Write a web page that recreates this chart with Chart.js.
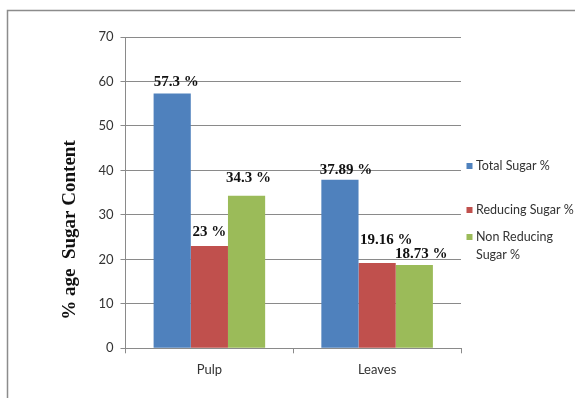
<!DOCTYPE html>
<html>
<head>
<meta charset="utf-8">
<script src="https://cdn.jsdelivr.net/npm/chart.js@4/dist/chart.umd.min.js"></script>
<style>
  html, body { margin: 0; padding: 0; background: #fff; }
  #wrap { width: 575px; height: 398px; position: relative; }
</style>
</head>
<body>
<div id="wrap"><canvas id="c" width="575" height="398"></canvas></div>
<script>
// Sugar content by plant part
const categories = ['Pulp', 'Leaves'];
const totalSugar = [57.3, 37.89];
const reducingSugar = [23, 19.16];
const nonReducingSugar = [34.3, 18.73];
const seriesNames = ['Total Sugar %', 'Reducing Sugar %', 'Non Reducing Sugar %'];
const yTicks = [0, 10, 20, 30, 40, 50, 60, 70];

// Per-label nudges (px) for the value labels: [series][category] -> [dx, dy above bar top]
const labelNudge = [
  [[4, 11], [6, 10]],
  [[0, 14], [9, 23]],
  [[2, 18], [7, 11]]
];
// Legend lines (the last entry wraps onto two lines)
const legendLines = [['Total Sugar %'], ['Reducing Sugar %'], ['Non Reducing', 'Sugar %']];
const legendRowY = [166, 210, 237];

const colors = ['#4F81BD', '#C0504D', '#9BBB59'];
const gridColor = '#8a8a8a';
const tickFont = { family: 'Lato', size: 13 };

const framePlugin = {
  id: 'frame',
  beforeDraw(chart) {
    const ctx = chart.ctx;
    ctx.save();
    ctx.strokeStyle = '#8c8c8c';
    ctx.lineWidth = 1.5;
    ctx.beginPath();
    ctx.moveTo(7.5, 398);
    ctx.lineTo(7.5, 10.5);
    ctx.lineTo(575, 10.5);
    ctx.stroke();
    ctx.restore();
  },
  afterDraw(chart) {
    const ctx = chart.ctx;
    ctx.save();
    // value labels
    ctx.font = 'bold 15px "Liberation Serif"';
    ctx.fillStyle = '#111';
    ctx.textAlign = 'center';
    ctx.textBaseline = 'middle';
    chart.data.datasets.forEach((ds, i) => {
      const meta = chart.getDatasetMeta(i);
      meta.data.forEach((bar, j) => {
        const n = labelNudge[i][j];
        ctx.fillText(ds.data[j] + ' %', bar.x + n[0], bar.y - n[1]);
      });
    });
    // y axis title
    ctx.save();
    ctx.translate(70, 230);
    ctx.rotate(-Math.PI / 2);
    ctx.font = 'bold 19px "Liberation Serif"';
    ctx.fillStyle = '#111';
    ctx.fillText('% age  Sugar Content', 0, 0);
    ctx.restore();
    // legend
    ctx.font = '12.5px Lato';
    ctx.textAlign = 'left';
    ctx.fillStyle = '#333';
    chart.data.datasets.forEach((ds, i) => {
      const y = legendRowY[i];
      ctx.fillStyle = ds.backgroundColor;
      ctx.fillRect(466.5, y - 3, 6, 6);
      ctx.fillStyle = '#333';
      legendLines[i].forEach((line, k) => {
        ctx.fillText(line, 476, y + k * 18);
      });
    });
    ctx.restore();
  }
};

new Chart(document.getElementById('c'), {
  type: 'bar',
  data: {
    labels: categories,
    datasets: [
      { label: seriesNames[0], data: totalSugar, backgroundColor: colors[0] },
      { label: seriesNames[1], data: reducingSugar, backgroundColor: colors[1] },
      { label: seriesNames[2], data: nonReducingSugar, backgroundColor: colors[2] }
    ]
  },
  options: {
    responsive: false,
    animation: false,
    devicePixelRatio: 1,
    layout: { padding: { left: 0, right: 114, top: 37, bottom: 0 } },
    datasets: { bar: { categoryPercentage: 0.665, barPercentage: 1.0 } },
    plugins: { legend: { display: false }, tooltip: { enabled: false } },
    scales: {
      x: {
        offset: true,
        grid: { display: true, drawOnChartArea: false, drawTicks: true, tickLength: 5, color: gridColor, offset: true },
        border: { display: true, color: gridColor, width: 1 },
        ticks: { font: tickFont, color: '#333', padding: 9 },
        afterFit(s) { s.height = 49.7; }
      },
      y: {
        min: 0, max: 70,
        afterBuildTicks(s) { s.ticks = yTicks.map(v => ({ value: v })); },
        grid: { color: gridColor, tickLength: 5, lineWidth: 1 },
        border: { display: true, color: gridColor, width: 1 },
        ticks: { font: tickFont, color: '#333', padding: 7 },
        afterFit(s) { s.width = 125.5; }
      }
    }
  },
  plugins: [framePlugin]
});
</script>
</body>
</html>
